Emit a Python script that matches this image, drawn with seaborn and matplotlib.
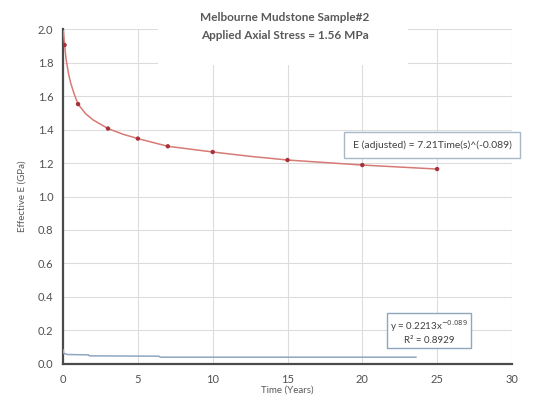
import numpy as np
import pandas as pd
import matplotlib
matplotlib.use("Agg")
import matplotlib.pyplot as plt
from matplotlib.patches import Rectangle
import seaborn as sns

# measured points (Time in years, Effective E in GPa)
time_pts = [0.1, 1, 3, 5, 7, 10, 15, 20, 25]
e_pts = [1.905, 1.552, 1.406, 1.346, 1.300, 1.266, 1.218, 1.188, 1.164]

# red trend curve
time_curve = [0.02, 0.1, 0.2, 0.35, 0.5, 0.75, 1, 1.5, 2, 3, 4, 5, 7, 10, 12.5, 15, 20, 25]
e_curve = [1.99, 1.905, 1.82, 1.74, 1.68, 1.61, 1.552, 1.495, 1.458, 1.406, 1.372, 1.346,
           1.300, 1.266, 1.240, 1.218, 1.188, 1.164]

# blue curve near the bottom
time_blue = [0, 0.05, 0.3, 1.7, 1.75, 6.4, 6.5, 23.6]
e_blue = [0.085, 0.062, 0.056, 0.054, 0.048, 0.046, 0.040, 0.040]

sns.set_theme(style="whitegrid")
plt.rcParams['font.family'] = ['Lato', 'DejaVu Sans']

fig = plt.figure(figsize=(5.44, 3.99), dpi=100)
ax = fig.add_axes([0.116, 0.088, 0.825, 0.839])
ax.set_axisbelow(True)

txt = '#595959'

sns.lineplot(x=time_curve, y=e_curve, ax=ax, color='#d77a76', linewidth=1.1, zorder=3)
sns.scatterplot(x=time_pts, y=e_pts, ax=ax, color='#a8323a', s=10, edgecolor='none', zorder=4)
sns.lineplot(x=time_blue, y=e_blue, ax=ax, color='#8ea6bf', linewidth=1.1, zorder=3)

ax.set_xlim(0, 30)
ax.set_ylim(0, 2.0)
ax.set_xticks(np.arange(0, 31, 5))
ax.set_yticks(np.arange(0, 2.01, 0.2))
ax.set_yticklabels([f'{v:.1f}' for v in np.arange(0, 2.01, 0.2)])
ax.tick_params(axis='both', labelsize=8, colors='#505050', length=0, pad=7)
ax.grid(True, color='#dcdcdc', linewidth=0.8)

for s in ['top', 'right']:
    ax.spines[s].set_visible(False)
for s in ['left', 'bottom']:
    ax.spines[s].set_visible(True)
    ax.spines[s].set_color('#4a4a4a')
    ax.spines[s].set_linewidth(1.6)

ax.set_xlabel('Time (Years)', fontsize=7, color=txt, labelpad=1)
ax.set_ylabel('Effective E (GPa)', fontsize=7, color=txt, labelpad=8)

# white area behind the title, hiding gridlines
ax.add_patch(Rectangle((0.212, 0.893), 0.556, 0.2, transform=ax.transAxes,
                       facecolor='white', edgecolor='none', zorder=1, clip_on=False))
fig.text(0.524, 0.957, 'Melbourne Mudstone Sample#2', ha='center', va='center',
         fontsize=8.5, fontweight='bold', color=txt)
fig.text(0.524, 0.912, 'Applied Axial Stress = 1.56 MPa', ha='center', va='center',
         fontsize=8.5, fontweight='bold', color=txt)

ax.text(0.822, 0.654, 'E (adjusted) = 7.21Time(s)^(-0.089)', transform=ax.transAxes,
        ha='center', va='center', fontsize=7.5, color='#404040', zorder=5,
        bbox=dict(boxstyle='square,pad=0.8', facecolor='white', edgecolor='#a9b8c8', linewidth=1))
ax.text(0.816, 0.096, 'y = 0.2213x$^{-0.089}$\nR² = 0.8929', transform=ax.transAxes,
        ha='center', va='center', fontsize=7, color='#404040', zorder=5, linespacing=1.3,
        bbox=dict(boxstyle='square,pad=0.3', facecolor='white', edgecolor='#8ea6bf', linewidth=1))

fig.savefig('out.png', dpi=100)
